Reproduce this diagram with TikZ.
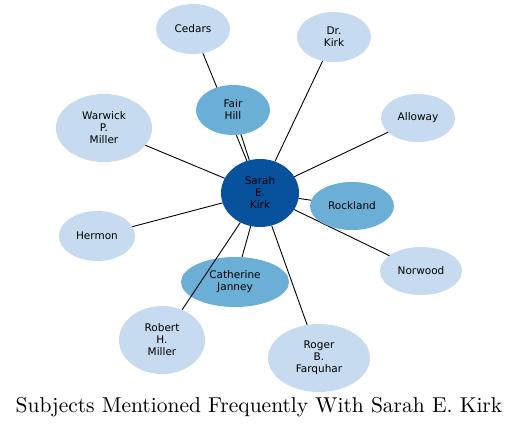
\documentclass[tikz,border=0pt]{standalone}
\usepackage{fontspec}
\newfontfamily\nodefont{DejaVu Sans}
\newfontfamily\titlefont[Extension=.otf]{lmroman10-regular}
\usetikzlibrary{shapes.geometric}
\definecolor{cdark}{HTML}{08519C}
\definecolor{cmid}{HTML}{6BAED6}
\definecolor{clight}{HTML}{C6DBEF}
\tikzset{
  ell/.style={ellipse, inner sep=0pt, font=\nodefont\fontsize{10.5}{12}\selectfont, align=center, text=black},
  lvl1/.style={ell, fill=cdark},
  lvl2/.style={ell, fill=cmid},
  lvl3/.style={ell, fill=clight},
  edge/.style={draw=black, line width=0.9pt}
}
\begin{document}
\begin{tikzpicture}[x=1pt,y=-1pt]
\useasboundingbox (0,0) rectangle (519,428);
\node[lvl2, minimum width=108, minimum height=50] (cath) at (235,282) {Catherine\\Janney};
\node[lvl1, minimum width=78, minimum height=68] (sarah) at (260,193) {Sarah\\E.\\Kirk};
\coordinate (c1) at (193,29);
\coordinate (c2) at (233,110);
\coordinate (c3) at (334,37);
\coordinate (c4) at (418,118);
\coordinate (c5) at (104,128);
\coordinate (c6) at (352,206);
\coordinate (c7) at (97,236);
\coordinate (c8) at (421,271);
\coordinate (c9) at (162,340);
\coordinate (c10) at (319,358);
\foreach \c in {c1,c2,c3,c4,c5,c6,c7,c8,c10}
  \draw[edge] (\c) -- (sarah);
\draw[edge] (cath) -- (sarah);
\node[lvl3, minimum width=74, minimum height=50] (cedars) at (c1) {Cedars};
\node[lvl2, minimum width=74, minimum height=50] (fair) at (c2) {Fair\\Hill};
\node[lvl3, minimum width=74, minimum height=50] (drkirk) at (c3) {Dr.\\Kirk};
\node[lvl3, minimum width=74, minimum height=48] (alloway) at (c4) {Alloway};
\node[lvl3, minimum width=96, minimum height=68] (warwick) at (c5) {Warwick\\P.\\Miller};
\node[lvl2, minimum width=84, minimum height=48] (rock) at (c6) {Rockland};
\node[lvl3, minimum width=76, minimum height=50] (hermon) at (c7) {Hermon};
\node[lvl3, minimum width=82, minimum height=48] (norwood) at (c8) {Norwood};
\node[lvl3, minimum width=86, minimum height=68] (robert) at (c9) {Robert\\H.\\Miller};
\node[lvl3, minimum width=102, minimum height=68] (roger) at (c10) {Roger\\B.\\Farquhar};
\draw[edge] (robert) -- (sarah);
\node[font=\titlefont\fontsize{21.5}{25}\selectfont] (title) at (259,407) {Subjects Mentioned Frequently With Sarah E. Kirk};
\end{tikzpicture}
\end{document}
